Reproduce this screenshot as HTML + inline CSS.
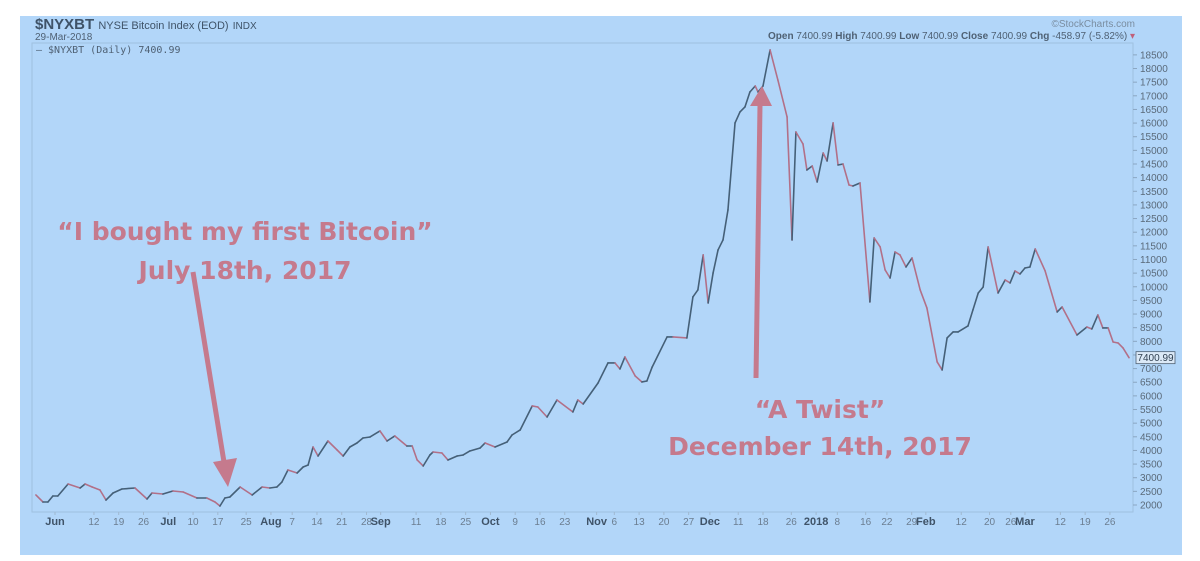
<!DOCTYPE html>
<html><head><meta charset="utf-8"><style>
body{margin:0;background:#fff;width:1200px;height:561px;overflow:hidden}
svg{display:block;font-family:"Liberation Sans",sans-serif}
</style></head><body>
<svg width="1200" height="561">
<rect x="20" y="16" width="1162" height="539" fill="#b2d6f9"/>
<rect x="32" y="43" width="1101" height="469" fill="none" stroke="#9fc0e0" stroke-width="1"/>
<g>
<text x="35" y="29" font-size="15" font-weight="bold" fill="#3f5368">$NYXBT <tspan font-size="11" font-weight="normal">NYSE Bitcoin Index (EOD)</tspan> <tspan font-size="10" font-weight="normal">INDX</tspan></text>
<text x="35" y="40" font-size="10" fill="#4f6174">29-Mar-2018</text>
<text x="36" y="53" font-size="10" fill="#4f6174" font-family="DejaVu Sans Mono,monospace">— $NYXBT (Daily) 7400.99</text>
<text x="1135" y="27" font-size="10" fill="#7a8da0" text-anchor="end">©StockCharts.com</text>
<text x="1135" y="39" font-size="10" fill="#4f6174" text-anchor="end"><tspan font-weight="bold">Open</tspan> 7400.99 <tspan font-weight="bold">High</tspan> 7400.99 <tspan font-weight="bold">Low</tspan> 7400.99 <tspan font-weight="bold">Close</tspan> 7400.99 <tspan font-weight="bold">Chg</tspan> -458.97 (-5.82%) <tspan fill="#c0607a">▾</tspan></text>
</g>
<g id="yax"></g>
<g id="xax"></g>
<g id="line"></g>
<g id="marker"></g>
<g font-family="DejaVu Sans,sans-serif" font-weight="bold" fill="#c57a8d" font-size="25" text-anchor="middle">
<text x="245" y="240">“I bought my first Bitcoin”</text>
<text x="245" y="279">July 18th, 2017</text>
<text x="820" y="418">“A Twist”</text>
<text x="820" y="455">December 14th, 2017</text>
<line x1="193" y1="272" x2="224" y2="462" stroke="#c57a8d" stroke-width="5"/>
<polygon points="213,462 237,458 228,487" fill="#c57a8d"/>
<line x1="756" y1="378" x2="760" y2="105" stroke="#c57a8d" stroke-width="5"/>
<polygon points="750,106 772,106 762,86" fill="#c57a8d"/>
</g>
</svg>
<script>
const days=[-5.4,-3.4,-2,-0.6,0.8,3.7,7.1,8.5,10.5,12.7,14.4,16.4,18.9,22.6,26,27.4,30.5,33.3,36.2,40.1,42.9,45.2,46.6,48,49.4,52.3,55.7,58.5,60.7,62.7,64.1,65.8,68.4,70.1,71.5,72.9,74.3,77.1,79.7,81.4,83.3,85.3,87,89,91.8,93.8,96,99.4,100.9,102.3,104,105.9,106.8,109.3,111,113.6,115.3,117.2,120.1,121.5,124.3,127.7,129.1,131.4,134.8,136.4,139,141.8,146.3,147.7,149.2,153.4,156.2,158.2,159.6,161,163.9,165.8,167.2,168.7,172.9,174.6,178.5,180.2,181.6,183.1,184.5,185.9,187.3,188.7,190.1,192.1,193.5,194.9,196.3,197.8,198.6,200,202,204.2,206.8,208.2,209.3,211.3,212.4,213.9,215.3,217,218.1,219.8,221.2,222.6,224.3,225.4,227.4,230.2,231.4,233.1,234.5,235.9,237.3,238.7,240.4,242.1,244.4,246.3,249.2,250.6,252,253.7,255.1,257.9,259.3,260.8,262.2,263.6,266.4,268.4,269.8,271.2,272.6,274,275.4,276.9,279.7,283.1,284.5,288.7,291.5,292.9,294.6,296,297.5,298.9,300.3,301.7,303.4];
const prices=[2367,2110,2110,2330,2330,2770,2623,2770,2660,2550,2183,2440,2587,2623,2220,2440,2403,2513,2477,2257,2257,2110,1963,2257,2293,2660,2367,2660,2623,2660,2843,3283,3173,3393,3466,4126,3796,4346,4016,3796,4126,4273,4456,4493,4713,4346,4530,4163,4163,3650,3430,3833,3943,3906,3650,3796,3833,3980,4090,4273,4126,4310,4566,4750,5630,5593,5226,5850,5410,5850,5703,6473,7206,7206,6986,7426,6730,6510,6546,7060,8160,8160,8123,9626,9883,11166,9406,10506,11350,11716,12815,16004,16407,16590,17140,17360,17140,17360,18680,17580,16224,11716,15674,15234,14281,14427,13841,14904,14611,16004,14464,14500,13731,13694,13804,9443,11789,11458,10615,10322,11275,11166,10725,11055,9883,9223,7243,6950,8123,8343,8343,8563,9150,9773,9993,11458,9773,10249,10139,10579,10469,10688,10725,11385,10579,9076,9259,8233,8526,8453,8966,8490,8490,7976,7939,7756,7401];
const tickDays=[0,11,18,25,32,39,46,54,61,67,74,81,88,92,102,109,116,123,130,137,144,153,158,165,172,179,185,193,200,208,215,221,229,235,242,246,256,264,270,274,284,291,298];
const tickLabels=["Jun","12","19","26","Jul","10","17","25","Aug","7","14","21","28","Sep","11","18","25","Oct","9","16","23","Nov","6","13","20","27","Dec","11","18","26","2018","8","16","22","29","Feb","12","20","26","Mar","12","19","26"];
const yTicks=[2000,2500,3000,3500,4000,4500,5000,5500,6000,6500,7000,7500,8000,8500,9000,9500,10000,10500,11000,11500,12000,12500,13000,13500,14000,14500,15000,15500,16000,16500,17000,17500,18000,18500];
const lastPrice="7400.99";
const NS="http://www.w3.org/2000/svg";
const X=d=>55+d*3.54, Y=v=>505-(v-2000)/500*13.64;
function mk(t,a,p){const e=document.createElementNS(NS,t);for(const k in a)e.setAttribute(k,a[k]);p.appendChild(e);return e;}
const ya=document.getElementById('yax');
yTicks.forEach(v=>{
 const l=mk('line',{x1:1133,x2:1137,y1:Y(v),y2:Y(v),stroke:'#8aa6c2'},ya);
 
 
 const t=mk('text',{x:1140,y:Y(v)+3.5,'font-size':10,fill:'#5a6a7a'},ya);
 
 
 t.textContent=v;
});
const xa=document.getElementById('xax');
tickDays.forEach((d,i)=>{
 const lab=tickLabels[i];const bold=isNaN(+lab)||lab==="2018";
 const l=mk('line',{x1:X(d),x2:X(d),y1:512,y2:515,stroke:'#9fb8d0'},xa);
 
 
 const t=mk('text',{x:X(d),y:525,'font-size':bold?11:10,'font-weight':bold?'bold':'normal',fill:bold?'#3f5368':'#6b7d90','text-anchor':'middle'},xa);
 
 
 t.textContent=lab;
});
const lg=document.getElementById('line');
for(let i=1;i<days.length;i++){
 const up=prices[i]>=prices[i-1];
 const s=mk('line',{x1:X(days[i-1]),y1:Y(prices[i-1]),x2:X(days[i]),y2:Y(prices[i]),stroke:up?'#456078':'#b27088','stroke-width':1.6,'stroke-linecap':'round'},lg);
 
 
}
const mg=document.getElementById('marker');
const yl=Y(prices[prices.length-1]);
const r=mk('rect',{x:1136,y:yl-6,width:39,height:12,fill:'#dbe9f7',stroke:'#4f6174','stroke-width':0.8},mg);


const mt=mk('text',{x:1155.5,y:yl+3.5,'font-size':10,fill:'#2f3f50','text-anchor':'middle'},mg);


mt.textContent=lastPrice;
</script>
</body></html>
